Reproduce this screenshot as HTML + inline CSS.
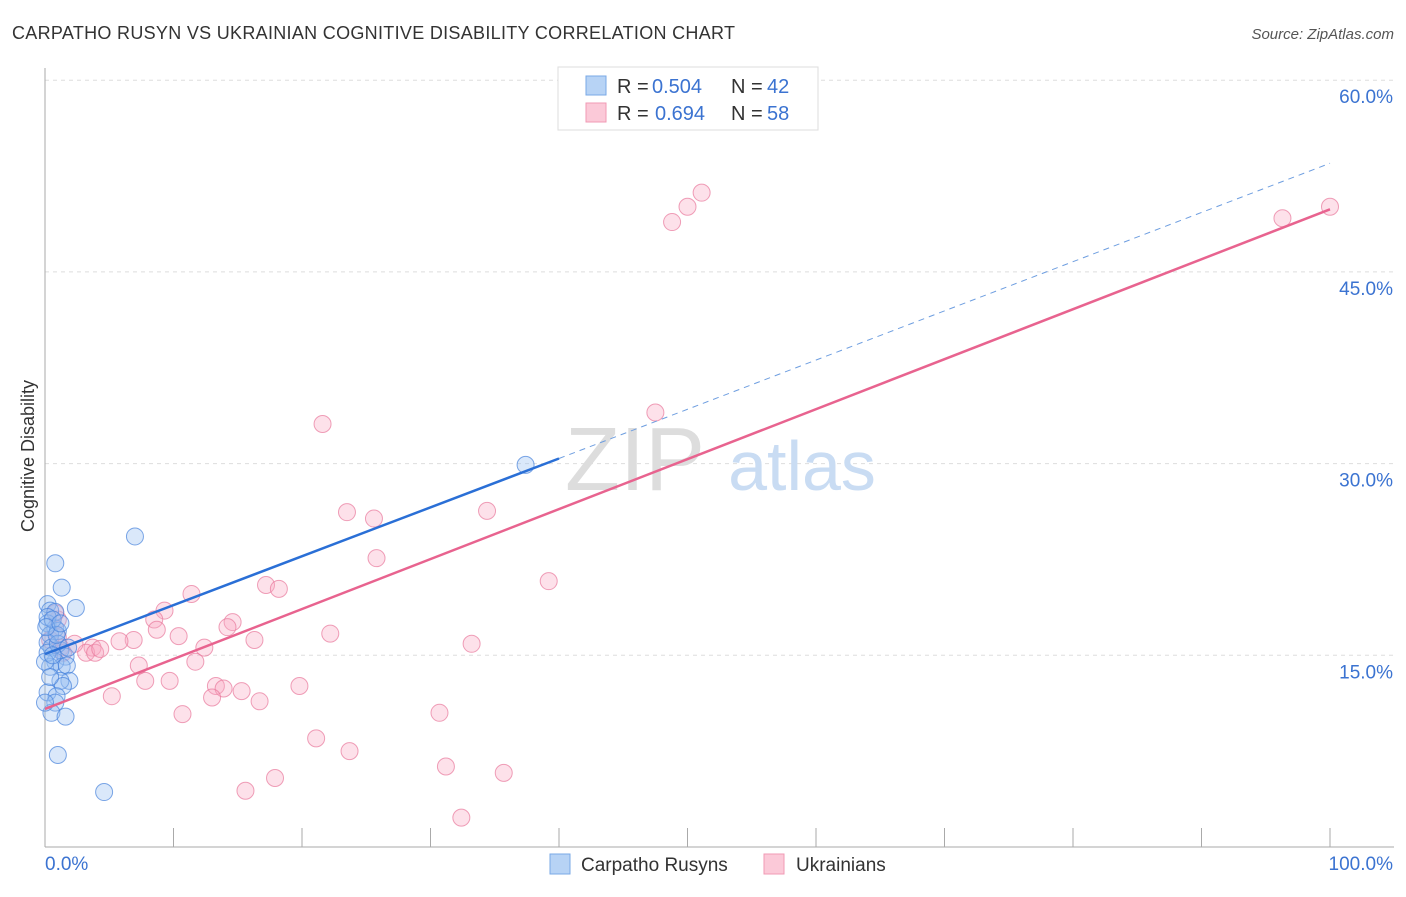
<!DOCTYPE html>
<html><head><meta charset="utf-8"><style>
body{margin:0;background:#fff;font-family:"Liberation Sans",sans-serif;}
svg text{font-family:"Liberation Sans",sans-serif;}
</style></head><body>
<svg width="1406" height="892" viewBox="0 0 1406 892">
<text x="12" y="39" font-size="18" fill="#333" textLength="723">CARPATHO RUSYN VS UKRAINIAN COGNITIVE DISABILITY CORRELATION CHART</text>
<text x="1394" y="39" font-size="15" fill="#555" font-style="italic" text-anchor="end">Source: ZipAtlas.com</text>
<g id="grid"></g>
<g id="axes"></g>
<text x="635" y="490" font-size="90" fill="#ddd" font-family="Liberation Serif" text-anchor="middle">ZIP</text>
<text x="802" y="490" font-size="70" fill="#c9dcf3" text-anchor="middle">atlas</text>
<g id="pts"></g>
<g id="lines"></g>
<text transform="translate(34,456) rotate(-90)" font-size="18" fill="#333" text-anchor="middle">Cognitive Disability</text>
<g>
<rect x="558" y="67" width="260" height="63" fill="#fff" stroke="#ddd"/>
<rect x="586" y="76" width="20" height="19" fill="#b7d3f5" stroke="#7aa8e6"/>
<rect x="586" y="103" width="20" height="19" fill="#fbc9d8" stroke="#f09ab4"/>
<text x="617" y="93" font-size="20" fill="#333">R =</text>
<text x="652" y="93" font-size="20" fill="#3b73d1">0.504</text>
<text x="731" y="93" font-size="20" fill="#333">N =</text>
<text x="767" y="93" font-size="20" fill="#3b73d1">42</text>
<text x="617" y="120" font-size="20" fill="#333">R =</text>
<text x="655" y="120" font-size="20" fill="#3b73d1">0.694</text>
<text x="731" y="120" font-size="20" fill="#333">N =</text>
<text x="767" y="120" font-size="20" fill="#3b73d1">58</text>
</g>
<g>
<rect x="550" y="854" width="20" height="20" fill="#b7d3f5" stroke="#7aa8e6"/>
<text x="581" y="871" font-size="19" fill="#333">Carpatho Rusyns</text>
<rect x="764" y="854" width="20" height="20" fill="#fbc9d8" stroke="#f09ab4"/>
<text x="796" y="871" font-size="19" fill="#333">Ukrainians</text>
</g>
</svg>
<script>
const yTicks=[15,30,45,60];
const yTickLabels=["15.0%","30.0%","45.0%","60.0%"];
const xTickLabels=["0.0%","100.0%"];
const blueX=[0.8,1.3,2.4,7,37.4,0.2,0.4,0.8,0.2,0.8,0.4,1,0.2,0.5,1.2,1.6,0.8,1.3,0.4,1.7,0.2,1.9,1.2,1.4,0.2,0.9,0.8,0.5,1.6,1,4.6,0.2,0.6,1,0,0.4,0,1.8,0.9,0.1,0.6,1.2];
const blueY=[22.2,20.3,18.7,24.3,29.9,19,18.5,18.4,17.5,17.1,16.6,16.9,16,15.6,15.4,14.9,14.5,14.1,14.1,14.2,15.2,13,13,12.6,12.1,11.8,11.3,10.5,10.2,7.2,4.3,18,17.8,15.9,14.5,13.3,11.3,15.6,16.6,17.2,15,17.5];
const pinkX=[100,96.3,51.1,50,48.8,47.5,21.6,34.4,23.5,25.6,25.8,39.2,17.2,18.2,11.4,9.3,8.5,14.6,14.2,8.7,10.4,16.3,22.2,6.9,5.8,33.2,12.4,3.7,3.2,3.9,4.3,2.3,1,1.2,1.4,7.3,11.7,7.8,9.7,13.3,13.9,15.3,19.8,5.2,13,16.7,10.7,30.7,21.1,23.7,31.2,35.7,17.9,15.6,32.4,1,0.8,0.4];
const pinkY=[50.1,49.2,51.2,50.1,48.9,34,33.1,26.3,26.2,25.7,22.6,20.8,20.5,20.2,19.8,18.5,17.8,17.6,17.2,17,16.5,16.2,16.7,16.2,16.1,15.9,15.6,15.6,15.2,15.2,15.5,15.9,16.4,15.6,15.2,14.2,14.5,13,13,12.6,12.4,12.2,12.6,11.8,11.7,11.4,10.4,10.5,8.5,7.5,6.3,5.8,5.4,4.4,2.3,17.8,18.3,16.2];
const blueLine=[15.1,0,30.4,40];
const blueDash=[53.5,100];
const pinkLine=[10.8,49.9];
const NS="http://www.w3.org/2000/svg";
const X=v=>45+v*12.85, Y=v=>847-v*12.78;
function mk(tag,attrs,parent){const e=document.createElementNS(NS,tag);for(const k in attrs)e.setAttribute(k,attrs[k]);document.getElementById(parent).appendChild(e);return e;}
yTicks.forEach((t,i)=>{
 const g=mk('line',{x1:45,x2:1394,y1:Y(t),y2:Y(t),stroke:'#ddd','stroke-dasharray':'4,4'},'grid');
 
 
 const tx=mk('text',{x:1393,y:Y(t)+23,'font-size':19,fill:'#3b73d1','text-anchor':'end'},'axes');
 tx.textContent=yTickLabels[i];
 
 
});
const ax=mk('line',{x1:45,x2:45,y1:68,y2:847,stroke:'#aaa'},'axes');


const bx=mk('line',{x1:45,x2:1394,y1:847,y2:847,stroke:'#aaa'},'axes');


for(let i=1;i<=10;i++){const t=mk('line',{x1:X(i*10),x2:X(i*10),y1:828,y2:847,stroke:'#aaa'},'axes');
 
 }
const xl0=mk('text',{x:45,y:870,'font-size':19,fill:'#3b73d1'},'axes');xl0.textContent=xTickLabels[0];


const xl1=mk('text',{x:1393,y:870,'font-size':19,fill:'#3b73d1','text-anchor':'end'},'axes');xl1.textContent=xTickLabels[1];


pinkX.forEach((v,i)=>{const c=mk('circle',{cx:X(v),cy:Y(pinkY[i]),r:8.5,fill:'rgba(248,170,195,0.35)',stroke:'rgba(232,120,155,0.7)','stroke-width':1},'pts');
 
 });
blueX.forEach((v,i)=>{const c=mk('circle',{cx:X(v),cy:Y(blueY[i]),r:8.5,fill:'rgba(150,190,240,0.35)',stroke:'rgba(70,130,220,0.7)','stroke-width':1},'pts');
 
 });
const bl=mk('line',{x1:X(0),y1:Y(blueLine[0]),x2:X(blueLine[3]),y2:Y(blueLine[2]),stroke:'#2a6fd6','stroke-width':2.5},'lines');


const bd=mk('line',{x1:X(blueLine[3]),y1:Y(blueLine[2]),x2:X(blueDash[1]),y2:Y(blueDash[0]),stroke:'#6e9ee0','stroke-width':1,'stroke-dasharray':'6,5'},'lines');


const pl=mk('line',{x1:X(0),y1:Y(pinkLine[0]),x2:X(100),y2:Y(pinkLine[1]),stroke:'#e8638f','stroke-width':2.5},'lines');


</script>
</body></html>
